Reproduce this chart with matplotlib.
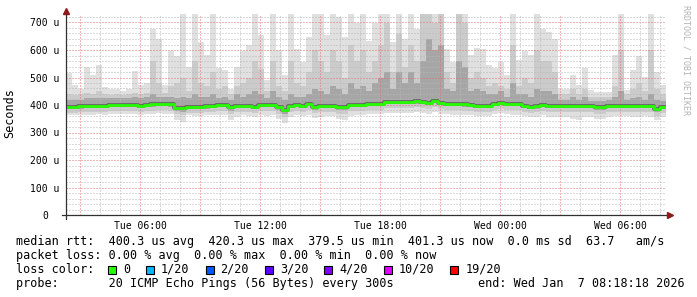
import numpy as np
import matplotlib
matplotlib.use("Agg")
from matplotlib import pyplot as plt
from matplotlib.patches import Rectangle

plt.rcParams['font.family'] = 'DejaVu Sans Mono'

# Time axis: hours since Tue 00:00, one bin = 18 min
start_hour = 2.3
step_hour = 0.3

# Smoke (microseconds)
ping_max = [515, 473, 460, 540, 509, 545, 467, 460, 460, 450,
            460, 522, 473, 480, 675, 640, 473, 595, 577, 760,
            540, 760, 630, 581, 760, 533, 527, 460, 540, 595,
            618, 760, 654, 491, 760, 600, 509, 760, 605, 558,
            649, 760, 760, 654, 760, 720, 649, 760, 700, 760,
            631, 700, 760, 760, 630, 760, 640, 760, 676, 760,
            760, 760, 760, 605, 558, 760, 760, 581, 609, 605,
            545, 533, 558, 509, 760, 563, 595, 581, 760, 676,
            666, 640, 460, 460, 509, 473, 533, 454, 448, 448,
            448, 581, 760, 454, 527, 577, 503, 760, 521, 473]
ping_p90 = [440, 435, 440, 445, 440, 450, 440, 435, 440, 435,
            440, 445, 440, 445, 560, 480, 445, 470, 480, 500,
            450, 560, 480, 470, 520, 460, 470, 440, 470, 480,
            500, 560, 530, 450, 560, 470, 450, 560, 480, 470,
            520, 600, 560, 520, 600, 560, 500, 620, 560, 600,
            520, 560, 620, 700, 520, 660, 540, 620, 560, 740,
            740, 700, 740, 520, 480, 740, 700, 500, 520, 500,
            470, 480, 470, 460, 620, 470, 500, 480, 600, 560,
            560, 520, 440, 440, 460, 440, 460, 430, 430, 430,
            430, 470, 600, 440, 460, 480, 450, 600, 460, 440]
ping_p75 = [420, 420, 420, 425, 425, 425, 425, 425, 425, 425,
            425, 430, 425, 430, 440, 430, 430, 430, 425, 430,
            425, 440, 430, 430, 440, 425, 430, 420, 440, 430,
            440, 450, 440, 425, 450, 430, 420, 440, 430, 430,
            440, 460, 450, 440, 470, 460, 440, 480, 460, 470,
            450, 480, 500, 520, 460, 520, 480, 520, 480, 560,
            640, 600, 620, 460, 450, 560, 540, 450, 460, 450,
            440, 440, 450, 430, 480, 440, 440, 430, 460, 450,
            450, 440, 420, 420, 430, 420, 430, 415, 415, 415,
            420, 430, 450, 420, 425, 430, 420, 440, 420, 415]
ping_median = [394, 394, 395, 396, 396, 397, 398, 399, 400, 400,
               400, 400, 398, 399, 402, 403, 403, 402, 390, 388,
               394, 394, 394, 395, 398, 400, 400, 391, 397, 398,
               398, 393, 400, 400, 401, 392, 382, 398, 399, 398,
               403, 393, 396, 398, 398, 392, 391, 399, 400, 401,
               403, 403, 404, 411, 412, 412, 411, 410, 413, 410,
               408, 415, 407, 405, 404, 403, 402, 400, 398, 398,
               398, 404, 409, 404, 403, 403, 398, 393, 395, 400,
               396, 396, 396, 397, 396, 397, 396, 396, 392, 391,
               397, 398, 398, 398, 397, 397, 398, 396, 386, 392]
ping_p25 = [386, 386, 387, 388, 388, 389, 390, 391, 392, 392,
            392, 392, 390, 391, 394, 395, 395, 394, 378, 376,
            386, 386, 386, 387, 390, 392, 392, 380, 389, 390,
            390, 384, 392, 392, 393, 382, 368, 390, 391, 390,
            395, 383, 388, 390, 390, 383, 382, 391, 392, 393,
            395, 395, 396, 402, 404, 404, 403, 402, 405, 402,
            400, 407, 399, 397, 396, 395, 394, 392, 390, 390,
            390, 396, 401, 396, 395, 395, 390, 385, 387, 392,
            388, 388, 388, 389, 388, 389, 388, 388, 383, 382,
            389, 390, 390, 390, 389, 389, 390, 388, 374, 384]
ping_p10 = [372, 372, 374, 374, 374, 376, 376, 377, 378, 378,
            378, 378, 376, 377, 380, 381, 381, 380, 366, 362,
            372, 372, 372, 373, 376, 378, 378, 368, 375, 376,
            376, 370, 378, 378, 379, 368, 356, 376, 377, 376,
            381, 370, 374, 376, 376, 369, 368, 377, 378, 379,
            381, 381, 382, 389, 390, 390, 389, 388, 391, 388,
            386, 393, 385, 383, 382, 381, 380, 378, 376, 376,
            376, 382, 387, 382, 381, 381, 376, 371, 373, 378,
            374, 374, 374, 375, 374, 375, 374, 374, 368, 367,
            375, 376, 376, 376, 375, 375, 376, 374, 360, 370]
ping_min = [362, 364, 364, 365, 362, 366, 365, 366, 368, 366,
            366, 368, 364, 366, 368, 370, 368, 366, 345, 340,
            362, 360, 360, 362, 362, 364, 362, 345, 358, 362,
            360, 355, 362, 360, 362, 350, 334, 358, 362, 360,
            364, 352, 358, 360, 360, 350, 345, 360, 362, 362,
            366, 366, 366, 372, 372, 372, 370, 370, 374, 370,
            368, 374, 368, 366, 365, 364, 364, 362, 360, 360,
            360, 366, 370, 366, 365, 364, 360, 355, 358, 362,
            358, 358, 356, 358, 350, 345, 356, 358, 350, 350,
            358, 360, 360, 360, 358, 358, 360, 356, 345, 355]

x_ticks = [6, 12, 18, 24, 30]
x_labels = ['Tue 06:00', 'Tue 12:00', 'Tue 18:00', 'Wed 00:00', 'Wed 06:00']
y_ticks = [0, 100, 200, 300, 400, 500, 600, 700]
y_labels = ['0', '100 u', '200 u', '300 u', '400 u', '500 u', '600 u', '700 u']

loss_labels = ['0', '1/20', '2/20', '3/20', '4/20', '10/20', '19/20']
loss_colors = ['#26ff00', '#00b8ff', '#0059ff', '#5e00ff', '#7e00ff', '#dd00ff', '#ff0000']

W, H = 697, 297
fig = plt.figure(figsize=(W / 100, H / 100), dpi=100)
ax = fig.add_axes([66 / W, (H - 215) / H, 600 / W, 200.75 / H])
n = len(ping_median)
edges = start_hour + step_hour * np.arange(n + 1)


def steps(a):
    return np.append(a, a[-1])


# smoke, lightest outside, darkest near the median
ax.fill_between(edges, steps(ping_min), steps(ping_max), step='post', color='#e0e0e0', lw=0, zorder=1)
ax.fill_between(edges, steps(ping_p10), steps(ping_p90), step='post', color='#cbcbcb', lw=0, zorder=1)
ax.fill_between(edges, steps(ping_p25), steps(ping_p75), step='post', color='#a6a6a6', lw=0, zorder=1)

# dotted grid over the smoke
grid_kw = dict(lw=0.72, ls=(0, (1, 2)), zorder=3)
for v in range(20, 730, 20):
    major = v % 100 == 0
    ax.axhline(v, color='#e07070' if major else '#b8b8b8', **grid_kw)
for h in range(3, 33):
    major = h % 3 == 0
    ax.axvline(h, color='#e07070' if major else '#b8b8b8', **grid_kw)

# median line
ax.step(edges, steps(ping_median), where='post', color='#606060', lw=2.6, zorder=4)
ax.step(edges, steps(ping_median), where='post', color='#26ff00', lw=2.0, zorder=5)

ax.set_xlim(start_hour, start_hour + step_hour * n)
ax.set_ylim(0, 730)
for s in ax.spines.values():
    s.set_visible(False)

# axis lines with arrows
ax.plot([-4 / 600, 603 / 600], [0, 0], transform=ax.transAxes, color='#303030', lw=0.9, clip_on=False, zorder=6)
ax.plot([0, 0], [-4 / 200.75, 1 + 1 / 200.75], transform=ax.transAxes, color='#303030', lw=0.9, clip_on=False, zorder=6)
ax.plot([604 / 600], [0], transform=ax.transAxes, marker='>', ms=4, color='#8b1a1a', clip_on=False, zorder=7)
ax.plot([0], [1 + 3 / 200.75], transform=ax.transAxes, marker='^', ms=4, color='#8b1a1a', clip_on=False, zorder=7)

ax.set_xticks(x_ticks)
ax.set_xticklabels(x_labels)
ax.set_yticks(y_ticks)
ax.set_yticklabels(y_labels)
ax.tick_params(axis='x', length=0, pad=4, labelsize=7)
ax.tick_params(axis='y', length=0, pad=15, labelsize=7)
for lab in ax.get_yticklabels():
    lab.set_ha('center')


def px(x, y):
    return x / W, 1 - y / H


fs = 8.5
fig.text(*px(10, 113), 'Seconds', rotation=90, ha='center', va='center', fontsize=fs)
fig.text(*px(686, 5), 'RRDTOOL / TOBI OETIKER', rotation=270, ha='center', va='top',
         fontsize=6, color='#b4b4b4')

fig.text(*px(16, 241), 'median rtt:  400.3 us avg  420.3 us max  379.5 us min  401.3 us now  0.0 ms sd  63.7   am/s',
         va='center', fontsize=fs)
fig.text(*px(16, 255.5), 'packet loss: 0.00 % avg  0.00 % max  0.00 % min  0.00 % now',
         va='center', fontsize=fs)
fig.text(*px(16, 269.5), 'loss color:', va='center', fontsize=fs)
fig.text(*px(16, 283.5), 'probe:       20 ICMP Echo Pings (56 Bytes) every 300s', va='center', fontsize=fs)
fig.text(*px(478, 283.5), 'end: Wed Jan  7 08:18:18 2026', va='center', fontsize=fs)

# loss colour legend boxes
x = 108
for lab, col in zip(loss_labels, loss_colors):
    fig.patches.append(Rectangle(px(x, 274), 8 / W, 8 / H, transform=fig.transFigure,
                                 facecolor=col, edgecolor='black', lw=0.8))
    fig.text(*px(x + 15, 269.5), lab, va='center', fontsize=fs)
    x = x + 15 + len(lab) * 7.1 + 16

fig.savefig("out.png", dpi=100)
